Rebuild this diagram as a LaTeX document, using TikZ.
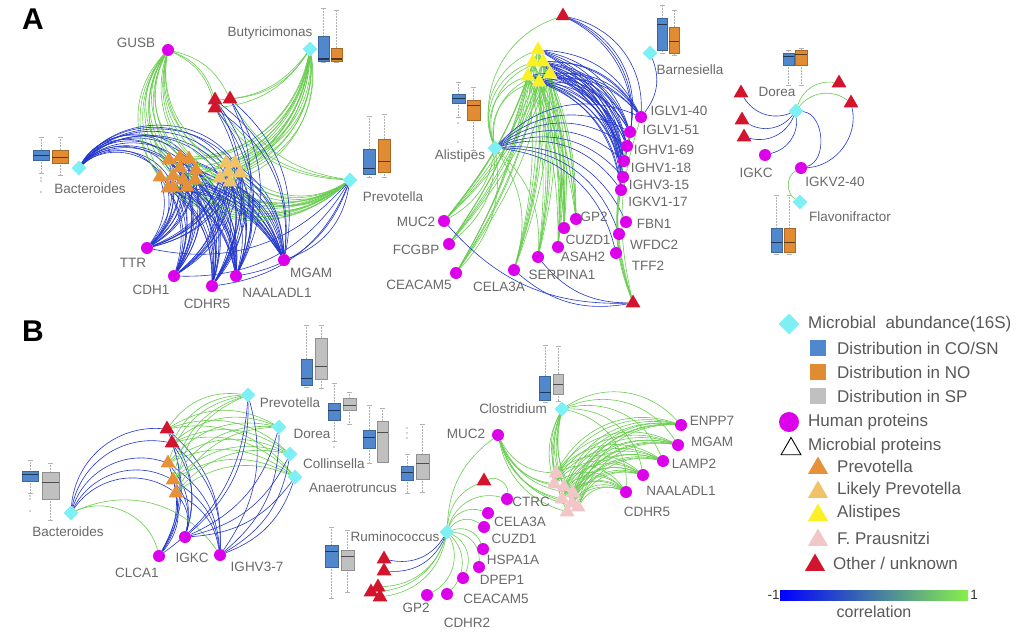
\documentclass[tikz,border=0pt]{standalone}
\usepackage{fontspec}
\setmainfont{Liberation Sans}
\usepackage{tikz}
\usetikzlibrary{shapes.geometric,backgrounds,positioning}

\definecolor{abund}{RGB}{125,240,245}
\definecolor{hprot}{RGB}{220,0,235}
\definecolor{prevo}{RGB}{230,145,55}
\definecolor{likprevo}{RGB}{240,195,105}
\definecolor{alis}{RGB}{250,240,35}
\definecolor{praus}{RGB}{242,198,198}
\definecolor{other}{RGB}{210,20,45}
\definecolor{cosn}{RGB}{80,135,205}
\definecolor{nobox}{RGB}{225,140,50}
\definecolor{spbox}{RGB}{192,192,192}
\definecolor{negc}{RGB}{35,55,205}
\definecolor{posc}{RGB}{105,205,80}
\definecolor{labgray}{RGB}{105,105,105}

\tikzset{
  diam/.style={diamond, fill=abund, minimum size=15pt, inner sep=0pt},
  hp/.style={circle, fill=hprot, minimum size=12pt, inner sep=0pt},
  mtri/.style={regular polygon, regular polygon sides=3, fill=#1, minimum size=17pt, inner sep=0pt},
  negedge/.style={draw=negc, line width=0.6pt},
  posedge/.style={draw=posc, line width=0.6pt},
  lbl/.style={font=\fontsize{13.5}{15}\selectfont, text=labgray, inner sep=0pt},
  leg/.style={font=\fontsize{17}{19}\selectfont, text=labgray!85!black, inner sep=0pt, anchor=west},
  whisk/.style={draw=black!30, line width=0.5pt, densely dotted},
}

% x, half width, colour, whisker top, q3, median, q1, whisker bottom
\newcommand{\bplot}[8]{%
  \draw[whisk] (#1,#4) -- (#1,#5) (#1,#7) -- (#1,#8);
  \draw[black!30, line width=0.5pt] (#1-2.5,#4) -- (#1+2.5,#4) (#1-2.5,#8) -- (#1+2.5,#8);
  \filldraw[fill=#3, draw=#3!75!black, line width=0.5pt] (#1-#2,#5) rectangle (#1+#2,#7);
  \draw[#3!40!black, line width=1pt] (#1-#2,#6) -- (#1+#2,#6);
}
\newcommand{\outl}[2]{\fill[black!35] (#1,#2) circle (0.8);}

\def\triA{pa1,pa2,pa3,pa4,pa5,pa6,pa7,pa8,pa9,pa10,pa11,pa12,la1,la2,la3,la4,la5,la6}
\def\rightA{iglvA,iglvB,ighvA,ighvB,ighvC,igkvA,fbn,wfdc,tff}
\def\lowA{mucA,fcgbp,ceacA,celaA,serp,asah,cuzdA,gptA}
\def\triB{rb1,rb2,ob1,ob2,ob3}
\def\lowB{ctrc,celaB,cuzdB,hspa,dpep,ceacB,cdhrB,gptB}
\def\hpB{enpp,mgamB,lamp,naalB,cdhrF}

\begin{document}
\begin{tikzpicture}[x=1pt,y=-1pt]
\useasboundingbox (0,0) rectangle (1024,634);

%% ---------- panel A ----------
\node[font=\bfseries\fontsize{30}{32}\selectfont] (panA) at (33,19) {A};

% left network
\node[diam] (bacA) at (79,168) {};
\node[diam] (butA) at (310,49) {};
\node[diam] (preA) at (350,180) {};
\node[hp] (gusb) at (168,50) {};
\node[hp] (ttr) at (147,248) {};
\node[hp] (cdh1) at (174,276) {};
\node[hp] (cdhrA) at (212,286) {};
\node[hp] (naalA) at (236,276) {};
\node[hp] (mgamA) at (284,260) {};
\foreach \n/\x/\y in {1/169/160,2/180/157,3/189/159,4/160/177,5/173/176,6/180/168,
    7/196/170,8/173/187,9/187/187,10/195/180,11/168/188,12/183/180}
  \node[mtri=prevo] (pa\n) at (\x,\y) {};
\foreach \n/\x/\y in {1/226/163,2/235/163,3/220/178,4/230/182,5/240/173,6/228/172}
  \node[mtri=likprevo] (la\n) at (\x,\y) {};
\foreach \n/\x/\y in {1/215/100,2/230/99,3/215/108}
  \node[mtri=other] (ra\n) at (\x,\y) {};

\node[lbl] (tGusb) at (136,43) {GUSB};
\node[lbl] (tButA) at (270,33) {Butyricimonas};
\node[lbl] (tBacA) at (90,189) {Bacteroides};
\node[lbl] (tPreA) at (393,197) {Prevotella};
\node[lbl] (tTtr) at (133,263) {TTR};
\node[lbl] (tCdh1) at (151,290) {CDH1};
\node[lbl] (tCdhrA) at (207,304) {CDHR5};
\node[lbl] (tNaalA) at (277,293) {NAALADL1};
\node[lbl] (tMgamA) at (311,273) {MGAM};

\bplot{41}{8}{cosn}{137}{150}{155}{160}{173}
\bplot{60}{8}{nobox}{137}{150}{157}{163}{175}
\outl{41}{178}\outl{41}{181}\outl{41}{192}
\bplot{323.5}{5.5}{cosn}{8}{36}{59}{61}{62}
\bplot{336.5}{5.5}{nobox}{10}{48}{59}{61}{62}
\bplot{369}{6}{cosn}{116}{149}{168}{174}{177}
\bplot{384}{6}{nobox}{114}{139}{161}{172}{177}

% middle network
\node[diam] (aliA) at (495,148) {};
\node[diam] (barA) at (650,53) {};
\node[mtri=other] (rmA) at (563,16) {};
\node[mtri=other] (rmB) at (633,303) {};
\foreach \n/\x/\y in {1/538/50,2/533/62,3/543/62,4/528/76,5/550/74,6/539/82}
  \node[mtri=alis] (ya\n) at (\x,\y) {};
\node[hp] (iglvA) at (641,117) {};
\node[hp] (iglvB) at (630,132) {};
\node[hp] (ighvA) at (627,146) {};
\node[hp] (ighvB) at (624,161) {};
\node[hp] (ighvC) at (623,177) {};
\node[hp] (igkvA) at (621,190) {};
\node[hp] (fbn) at (626,222) {};
\node[hp] (wfdc) at (619,234) {};
\node[hp] (tff) at (616,253) {};
\node[hp] (gptA) at (576,219) {};
\node[hp] (cuzdA) at (564,228) {};
\node[hp] (asah) at (558,247) {};
\node[hp] (serp) at (538,257) {};
\node[hp] (celaA) at (514,270) {};
\node[hp] (mucA) at (444,221) {};
\node[hp] (fcgbp) at (449,244) {};
\node[hp] (ceacA) at (456,273) {};

\node[lbl] (tAliA) at (460,156) {Alistipes};
\node[lbl] (tBarA) at (690,70) {Barnesiella};
\node[lbl] (tIglvA) at (679,111) {IGLV1-40};
\node[lbl] (tIglvB) at (671,130) {IGLV1-51};
\node[lbl] (tIghvA) at (664,150) {IGHV1-69};
\node[lbl] (tIghvB) at (661,168) {IGHV1-18};
\node[lbl] (tIghvC) at (659,185) {IGHV3-15};
\node[lbl] (tIgkvA) at (658,202) {IGKV1-17};
\node[lbl] (tFbn) at (654,224) {FBN1};
\node[lbl] (tWfdc) at (654,245) {WFDC2};
\node[lbl] (tTff) at (648,266) {TFF2};
\node[lbl] (tGptA) at (594,217) {GP2};
\node[lbl] (tCuzdA) at (588,240) {CUZD1};
\node[lbl] (tAsah) at (583,257) {ASAH2};
\node[lbl] (tSerp) at (562,275) {SERPINA1};
\node[lbl] (tCelaA) at (499,287) {CELA3A};
\node[lbl] (tMucA) at (416,222) {MUC2};
\node[lbl] (tFcgbp) at (416,250) {FCGBP};
\node[lbl] (tCeacA) at (419,285) {CEACAM5};

\bplot{458.5}{6.5}{cosn}{82}{94}{98}{103}{117}
\bplot{473.5}{6.5}{nobox}{87}{100}{105}{120}{150}
\outl{458}{123}\outl{458}{142}
\bplot{662}{5}{cosn}{5}{18}{25}{50}{53}
\bplot{674}{5}{nobox}{10}{27}{42}{53}{55}

% right network
\node[diam] (dorA) at (796,111) {};
\node[diam] (flavA) at (800,202) {};
\node[mtri=other] (rr1) at (741,93) {};
\node[mtri=other] (rr2) at (742,120) {};
\node[mtri=other] (rr3) at (744,137) {};
\node[mtri=other] (rr4) at (839,83) {};
\node[mtri=other] (rr5) at (851,103) {};
\node[hp] (igkcA) at (765,155) {};
\node[hp] (igkvB) at (801,168) {};

\node[lbl] (tDorA) at (777,92) {Dorea};
\node[lbl] (tIgkcA) at (756,173) {IGKC};
\node[lbl] (tIgkvB) at (835,182) {IGKV2-40};
\node[lbl] (tFlavA) at (850,217) {Flavonifractor};

\bplot{788.5}{5.5}{cosn}{50}{53}{57}{65}{85}
\bplot{801}{6}{nobox}{48}{50}{55}{65}{85}
\bplot{776.5}{5.5}{cosn}{195}{228}{242}{252}{254}
\bplot{789.5}{5.5}{nobox}{195}{228}{242}{252}{254}

%% ---------- panel B ----------
\node[font=\bfseries\fontsize{30}{32}\selectfont] (panB) at (33,331) {B};

% left network
\node[diam] (bacB) at (71,513) {};
\node[diam] (preB) at (248,395) {};
\node[diam] (dorB) at (279,427) {};
\node[diam] (colB) at (290,454) {};
\node[diam] (anaB) at (295,477) {};
\node[mtri=other] (rb1) at (167,429) {};
\node[mtri=other] (rb2) at (172,443) {};
\node[mtri=prevo] (ob1) at (168,463) {};
\node[mtri=prevo] (ob2) at (173,480) {};
\node[mtri=prevo] (ob3) at (176,493) {};
\node[hp] (clca) at (159,556) {};
\node[hp] (igkcB) at (185,537) {};
\node[hp] (ighvD) at (220,555) {};

\node[lbl] (tBacB) at (68,532) {Bacteroides};
\node[lbl] (tPreB) at (290,403) {Prevotella};
\node[lbl] (tDorB) at (312,434) {Dorea};
\node[lbl] (tColB) at (334,464) {Collinsella};
\node[lbl] (tAnaB) at (353,488) {Anaerotruncus};
\node[lbl] (tClca) at (137,573) {CLCA1};
\node[lbl] (tIgkcB) at (192,558) {IGKC};
\node[lbl] (tIghvD) at (257,567) {IGHV3-7};

\bplot{30}{8}{cosn}{460}{471}{474}{481}{493}
\bplot{50.5}{8.5}{spbox}{463}{472}{482}{499}{520}
\outl{30}{496}\outl{30}{499}\outl{30}{511}
\bplot{306.5}{5.5}{cosn}{325}{359}{378}{385}{387}
\bplot{321}{6}{spbox}{325}{338}{366}{379}{388}
\bplot{334}{6}{cosn}{383}{403}{410}{420}{441}
\bplot{349.5}{6.5}{spbox}{392}{398}{405}{410}{424}
\outl{334}{447}
\bplot{369}{6}{cosn}{405}{430}{437}{448}{463}
\bplot{382.5}{5.5}{spbox}{408}{421}{432}{462}{462}
\bplot{407}{6}{cosn}{454}{466}{472}{480}{493}
\bplot{422.5}{6.5}{spbox}{424}{454}{463}{479}{492}
\outl{407}{428}\outl{407}{433}\outl{407}{438}

% right network
\node[diam] (rumB) at (447,532) {};
\node[diam] (cloB) at (562,409) {};
\node[hp] (mucB) at (498,435) {};
\node[mtri=other] (rbt) at (484,481) {};
\node[hp] (ctrc) at (507,499) {};
\node[hp] (celaB) at (488,513) {};
\node[hp] (cuzdB) at (484,527) {};
\node[hp] (hspa) at (483,549) {};
\node[hp] (dpep) at (479,567) {};
\node[hp] (ceacB) at (463,578) {};
\node[hp] (cdhrB) at (447,594) {};
\node[hp] (gptB) at (427,595) {};
\foreach \n/\x/\y in {1/384/559,2/384/571,3/378/587,4/371/592,5/380/597}
  \node[mtri=other] (rl\n) at (\x,\y) {};
\foreach \n/\x/\y in {1/556/473,2/554/484,3/564/487,4/573/493,5/562/499,6/572/503,7/567/512,8/578/507}
  \node[mtri=praus] (pk\n) at (\x,\y) {};
\node[hp] (enpp) at (681,425) {};
\node[hp] (mgamB) at (678,445) {};
\node[hp] (lamp) at (663,461) {};
\node[hp] (naalB) at (643,475) {};
\node[hp] (cdhrF) at (626,492) {};

\node[lbl] (tRumB) at (395,537) {Ruminococcus};
\node[lbl] (tCloB) at (513,409) {Clostridium};
\node[lbl] (tMucB) at (466,434) {MUC2};
\node[lbl] (tCtrc) at (531,502) {CTRC};
\node[lbl] (tCelaB) at (520,522) {CELA3A};
\node[lbl] (tCuzdB) at (514,539) {CUZD1};
\node[lbl] (tHspa) at (513,560) {HSPA1A};
\node[lbl] (tDpep) at (502,580) {DPEP1};
\node[lbl] (tCeacB) at (496,599) {CEACAM5};
\node[lbl] (tCdhrB) at (467,623) {CDHR2};
\node[lbl] (tGptB) at (416,608) {GP2};
\node[lbl] (tEnpp) at (712,421) {ENPP7};
\node[lbl] (tMgamB) at (712,442) {MGAM};
\node[lbl] (tLamp) at (694,464) {LAMP2};
\node[lbl] (tNaalB) at (681,491) {NAALADL1};
\node[lbl] (tCdhrF) at (647,512) {CDHR5};

\bplot{331.5}{6.5}{cosn}{527}{545}{551}{567}{598}
\bplot{347.5}{6.5}{spbox}{530}{550}{556}{570}{592}
\bplot{545}{5.5}{cosn}{345}{376}{392}{400}{402}
\bplot{558}{5}{spbox}{346}{374}{384}{394}{401}

%% ---------- edges ----------
\begin{scope}[on background layer]
\fill[white] (0,0) rectangle (1024,634);
% A left
\foreach \t in \triA {
  \draw[negedge] (bacA) to[bend left=55] (\t);
  \draw[posedge] (gusb) to[bend right=40] (\t);
  \draw[posedge] (butA) to[bend left=40] (\t);
  \draw[posedge] (preA) to[bend left=40] (\t);
  \foreach \p in {ttr,cdh1,cdhrA,naalA,mgamA}
    \draw[negedge] (\t) to[bend left=25] (\p);
}
\foreach \t in {ra1,ra2,ra3} {
  \draw[posedge] (gusb) to[bend left=25] (\t);
  \draw[posedge] (butA) to[bend left=25] (\t);
  \draw[posedge] (\t) to[bend right=25] (preA);
  \foreach \p in {cdhrA,naalA,mgamA} \draw[negedge] (\t) to[bend left=30] (\p);
}
\foreach \p in {ttr,cdh1,cdhrA,naalA,mgamA} \draw[negedge] (preA) to[bend left=30] (\p);
% A middle
\foreach \i in {1,...,6} {
  \draw[posedge] (aliA) to[bend left=45] (ya\i);
  \foreach \p in \lowA \draw[posedge] (ya\i) to[bend left=10] (\p);
  \foreach \p in {iglvA,iglvB,ighvA,ighvB,ighvC,igkvA} \draw[negedge] (ya\i) to[bend left=30] (\p);
}
\draw[posedge] (aliA) to[bend left=45] (rmA);
\foreach \p in \rightA \draw[negedge] (aliA) to[bend left=35] (\p);
\foreach \p in {mucA,fcgbp,ceacA,celaA,serp} \draw[posedge] (aliA) to[bend left=25] (\p);
\foreach \p in {iglvA,iglvB,ighvA,ighvB} \draw[negedge] (rmA) to[bend left=40] (\p);
\draw[negedge] (barA) to[bend left=30] (iglvA);
\foreach \p in {iglvA,iglvB,ighvA,ighvB,ighvC,igkvA} \draw[posedge] (rmB) to[bend left=15] (\p);
\foreach \p in {mucA,celaA,serp} \draw[negedge] (\p) to[bend right=25] (rmB);
% A right
\foreach \t in {rr1,rr2,rr3} \draw[negedge] (dorA) to[bend left=40] (\t);
\draw[negedge] (dorA) to[bend left=40] (igkcA);
\draw[negedge] (dorA) to[bend left=80] (igkvB);
\draw[negedge] (igkvB) to[bend right=50] (rr5);
\draw[posedge] (dorA) to[bend left=40] (rr4);
\draw[posedge] (dorA) to[bend left=45] (rr5);
\draw[posedge] (flavA) to[bend left=60] (igkvB);
% B left
\foreach \t in \triB {
  \draw[negedge] (bacB) to[bend left=45] (\t);
  \foreach \m in {preB,dorB,colB,anaB} \draw[posedge] (\m) to[bend right=30] (\t);
  \foreach \p in {clca,igkcB,ighvD} \draw[negedge] (\t) to[bend left=25] (\p);
}
\draw[posedge] (bacB) to[bend left=50] (clca);
\draw[posedge] (bacB) to[bend left=40] (ighvD);
\foreach \m in {preB,dorB,colB,anaB}
  \foreach \p in {igkcB,ighvD} \draw[negedge] (\m) to[bend left=25] (\p);
\draw[negedge] (preB) to[bend left=25] (clca);
% B right
\foreach \p in \lowB \draw[posedge] (rumB) to[bend left=45] (\p);
\draw[posedge] (rumB) to[bend left=25] (mucB);
\draw[posedge] (rumB) to[bend left=30] (rbt);
\draw[posedge] (rbt) to[bend left=60] (ctrc);
\foreach \t in {rl1,rl2} \draw[negedge] (rumB) to[bend left=35] (\t);
\foreach \t in {rl3,rl4,rl5} \draw[posedge] (rumB) to[bend left=35] (\t);
\foreach \i in {1,...,8} {
  \draw[posedge] (mucB) to[bend right=30] (pk\i);
  \draw[posedge] (cloB) to[bend right=20] (pk\i);
  \foreach \p in \hpB \draw[posedge] (pk\i) to[bend left=40] (\p);
}
\foreach \p in \hpB \draw[posedge] (cloB) to[bend left=40] (\p);
\end{scope}

%% ---------- legend ----------
\node[diam, minimum size=21pt] (lgAb) at (789,324) {};
\node[leg] (lgAbT) at (808,324) {Microbial\ \ abundance(16S)};
\foreach \c/\y/\txt [count=\k] in {cosn/348/Distribution in CO\slash SN,nobox/372/Distribution in NO,spbox/396/Distribution in SP} {
  \node[fill=\c, minimum size=16pt, inner sep=0pt] (lgBox\k) at (818,\y) {};
  \node[leg] (lgBoxT\k) at (837,\y) {\txt};
}
\node[hp, minimum size=20pt] (lgHp) at (789,422) {};
\node[leg] (lgHpT) at (808,422) {Human proteins};
\node[regular polygon, regular polygon sides=3, draw=black, line width=0.9pt, minimum size=23pt, inner sep=0pt] (lgMp) at (791,449) {};
\node[leg] (lgMpT) at (808,446) {Microbial proteins};
\foreach \c/\y/\txt [count=\k] in {prevo/466/Prevotella,likprevo/490/Likely Prevotella,alis/513/Alistipes,praus/538/F. Prausnitzi} {
  \node[mtri=\c, minimum size=23pt] (lgTri\k) at (818,\y+2) {};
  \node[leg] (lgTriT\k) at (837,\y) {\txt};
}
\node[mtri=other, minimum size=23pt] (lgTri5) at (815,565) {};
\node[leg] (lgTriT5) at (833,563) {Other / unknown};

\node[minimum width=188pt, minimum height=10pt, inner sep=0pt,
  left color=blue, right color={rgb,255:red,135;green,240;blue,75}] (cbar) at (874,595) {};
\node[lbl, text=black!80, anchor=east] (cbarL) at (cbar.west) {-1};
\node[lbl, text=black!80, anchor=west, xshift=2pt] (cbarR) at (cbar.east) {1};
\node[leg, anchor=center, font=\fontsize{16}{18}\selectfont] (cbarT) [below=5pt of cbar] {correlation};
\end{tikzpicture}
\end{document}
